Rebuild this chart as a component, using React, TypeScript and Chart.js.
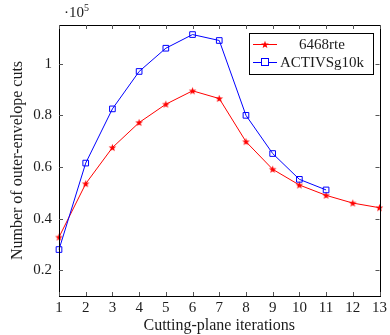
import React, { useEffect, useRef } from "react";
import { Chart, registerables } from "chart.js";

Chart.register(...registerables);

const iterations = [1, 2, 3, 4, 5, 6, 7, 8, 9, 10, 11, 12, 13];
const rte6468 = [0.328, 0.535, 0.675, 0.772, 0.843, 0.895, 0.865, 0.698, 0.591, 0.53, 0.49, 0.46, 0.442];
const activsg10k = [0.28, 0.615, 0.825, 0.97, 1.06, 1.113, 1.09, 0.8, 0.652, 0.552, 0.511];
const yTicks = [0.2, 0.4, 0.6, 0.8, 1];
const seriesNames = ["6468rte", "ACTIVSg10k"];

const FONT = "'Liberation Serif', 'DejaVu Serif', serif";
const TEXT = "#1c1c1c";

function starPath(ctx: CanvasRenderingContext2D, cx: number, cy: number, r: number) {
  ctx.beginPath();
  for (let i = 0; i < 10; i++) {
    const rad = i % 2 === 0 ? r : r * 0.42;
    const a = -Math.PI / 2 + (i * Math.PI) / 5;
    const x = cx + rad * Math.cos(a);
    const y = cy + rad * Math.sin(a);
    if (i === 0) ctx.moveTo(x, y);
    else ctx.lineTo(x, y);
  }
  ctx.closePath();
}

function makeStar(): HTMLCanvasElement {
  const c = document.createElement("canvas");
  c.width = 9;
  c.height = 9;
  const ctx = c.getContext("2d")!;
  ctx.fillStyle = "#ff0000";
  starPath(ctx, 4.5, 4.8, 4);
  ctx.fill();
  return c;
}

export default function App() {
  const ref = useRef<HTMLCanvasElement>(null);
  useEffect(() => {
    const star = makeStar();
    const framePlugin = {
      id: "frame",
      afterDraw(chart: any) {
        const { ctx, chartArea: a, scales } = chart;
        const xs = scales.x;
        const ys = scales.y;
        ctx.save();
        ctx.strokeStyle = "#000";
        ctx.lineWidth = 1;
        ctx.strokeRect(Math.round(a.left) + 0.5, Math.round(a.top) + 0.5, Math.round(a.right - a.left), Math.round(a.bottom - a.top));
        ctx.strokeStyle = "#555";
        ctx.beginPath();
        const tl = 4;
        iterations.forEach((v) => {
          const x = Math.round(xs.getPixelForValue(v)) + 0.5;
          ctx.moveTo(x, a.bottom);
          ctx.lineTo(x, a.bottom - tl);
          ctx.moveTo(x, a.top);
          ctx.lineTo(x, a.top + tl);
        });
        yTicks.forEach((v) => {
          const y = Math.round(ys.getPixelForValue(v)) + 0.5;
          ctx.moveTo(a.left, y);
          ctx.lineTo(a.left + tl, y);
          ctx.moveTo(a.right, y);
          ctx.lineTo(a.right - tl, y);
        });
        ctx.stroke();
        // exponent label
        ctx.fillStyle = TEXT;
        ctx.textBaseline = "alphabetic";
        ctx.textAlign = "left";
        ctx.font = `15px ${FONT}`;
        ctx.fillText("·10", 64, 17);
        ctx.font = `10px ${FONT}`;
        ctx.fillText("5", 84, 11);
        // legend
        const lx = 249, ly = 33, lw = 124, lh = 41;
        ctx.fillStyle = "#fff";
        ctx.fillRect(lx, ly, lw, lh);
        ctx.strokeStyle = "#000";
        ctx.strokeRect(lx + 0.5, ly + 0.5, lw, lh);
        const rows = [
          { name: seriesNames[0], color: "#ff0000", y: 44 },
          { name: seriesNames[1], color: "#0000ff", y: 62 },
        ];
        rows.forEach((r, i) => {
          ctx.strokeStyle = r.color;
          ctx.beginPath();
          ctx.moveTo(253, r.y + 0.5);
          ctx.lineTo(277, r.y + 0.5);
          ctx.stroke();
          if (i === 0) {
            ctx.fillStyle = r.color;
            starPath(ctx, 265, r.y + 0.8, 4);
            ctx.fill();
          } else {
            ctx.fillStyle = "#fff";
            ctx.fillRect(261, r.y - 3.5, 8, 8);
            ctx.strokeRect(261.5, r.y - 3.5, 7, 7);
          }
          ctx.fillStyle = TEXT;
          ctx.font = `15px ${FONT}`;
          ctx.textAlign = "center";
          ctx.textBaseline = "alphabetic";
          ctx.fillText(r.name, 322, r.y + 5);
        });
        ctx.restore();
      },
    };
    const chart = new Chart(ref.current!, {
      type: "line",
      data: {
        datasets: [
          {
            label: seriesNames[1],
            data: activsg10k.map((v, i) => ({ x: iterations[i], y: v })),
            borderColor: "#0000ff",
            backgroundColor: "rgba(255,255,255,0)",
            borderWidth: 1,
            pointStyle: "rect",
            pointRadius: 4,
            pointBorderWidth: 1,
            pointBorderColor: "#0000ff",
            pointBackgroundColor: "rgba(255,255,255,0)",
            clip: false,
          },
          {
            label: seriesNames[0],
            data: rte6468.map((v, i) => ({ x: iterations[i], y: v })),
            borderColor: "#ff0000",
            backgroundColor: "#ff0000",
            borderWidth: 1,
            pointStyle: star as any,
            pointRadius: 4,
            clip: false,
          },
        ],
      },
      options: {
        animation: false,
        responsive: false,
        maintainAspectRatio: false,
        layout: { padding: { left: 0, top: 25, right: 7, bottom: 0 } },
        plugins: { legend: { display: false }, tooltip: { enabled: false } },
        scales: {
          x: {
            type: "linear",
            min: 1,
            max: 13,
            grid: { display: false, drawTicks: false },
            border: { display: false },
            afterBuildTicks: (s: any) => {
              s.ticks = iterations.map((v) => ({ value: v }));
            },
            afterFit: (s: any) => {
              s.height = 39;
            },
            ticks: {
              color: TEXT,
              font: { family: FONT, size: 15 },
              padding: 3,
              maxRotation: 0,
              callback: (v: any) => String(v),
            },
            title: {
              display: true,
              text: "Cutting-plane iterations",
              color: TEXT,
              font: { family: FONT, size: 16 },
              padding: { top: 0, bottom: 0 },
            },
          },
          y: {
            type: "linear",
            min: 0.1,
            max: 1.15,
            grid: { display: false, drawTicks: false },
            border: { display: false },
            afterBuildTicks: (s: any) => {
              s.ticks = yTicks.map((v) => ({ value: v }));
            },
            afterFit: (s: any) => {
              s.width = 59;
            },
            ticks: {
              color: TEXT,
              font: { family: FONT, size: 15 },
              padding: 7,
              callback: (v: any) => String(Math.round(v * 10) / 10),
            },
            title: {
              display: true,
              text: "Number of outer-envelope cuts",
              color: TEXT,
              font: { family: FONT, size: 16 },
              padding: { top: 8, bottom: 0 },
            },
          },
        },
      },
      plugins: [framePlugin],
    });
    return () => chart.destroy();
  }, []);
  return (
    <div style={{ position: "fixed", left: 0, top: 0, width: 390, height: 335, background: "#fff" }}>
      <canvas ref={ref} width={390} height={335} style={{ width: 390, height: 335 }} />
    </div>
  );
}
